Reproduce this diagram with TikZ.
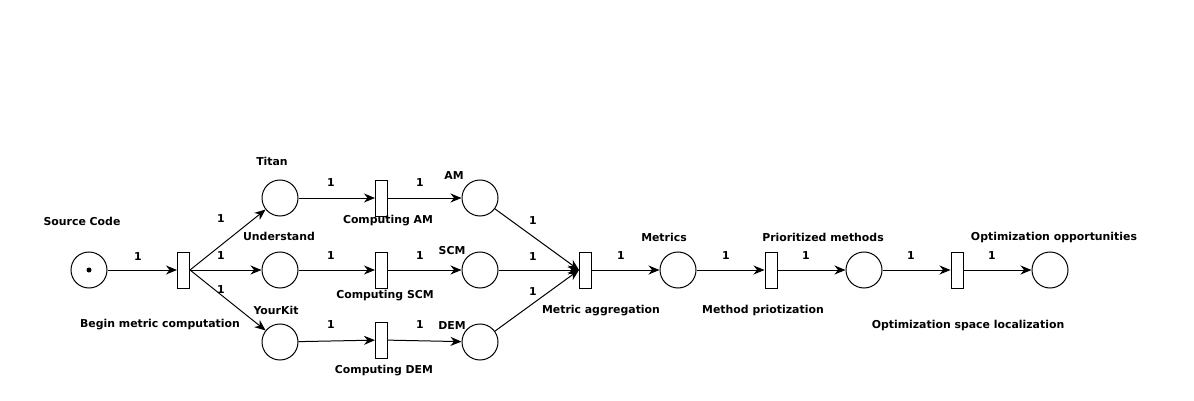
\documentclass[tikz,border=0pt]{standalone}
\usepackage{fontspec}
\setmainfont{DejaVu Sans}
\usetikzlibrary{arrows.meta,positioning}

\begin{document}
\begin{tikzpicture}[x=1pt, y=-1pt,
    place/.style={circle, draw, line width=1pt, minimum size=36pt, inner sep=0pt},
    transition/.style={rectangle, draw, line width=1pt, minimum width=12pt, minimum height=36pt, inner sep=0pt},
    arc/.style={line width=1pt, -{Stealth[length=11pt, width=9pt, inset=3.5pt]}},
    lbl/.style={font=\fontsize{10.9}{12}\selectfont\bfseries, inner sep=0pt},
    weight/.style={font=\fontsize{10.9}{12}\selectfont\bfseries, inner sep=0pt}]
    % Page frame
    \useasboundingbox (0,0) rectangle (1194,401);

    % Places
    \node[place] (src) at (89,270) {};
    \fill (src.center) circle (2.5pt);
    \node[place] (titan) at (280,198) {};
    \node[place] (und) at (280,270) {};
    \node[place] (yk) at (280,342) {};
    \node[place] (am) at (480,198) {};
    \node[place] (scm) at (480,270) {};
    \node[place] (dem) at (480,342) {};
    \node[place] (metrics) at (678,270) {};
    \node[place] (prio) at (864,270) {};
    \node[place] (opp) at (1050,270) {};

    % Transitions
    \node[transition] (begin) at (183.5,270) {};
    \node[transition] (cam) at (381.5,198) {};
    \node[transition] (cscm) at (381.5,270) {};
    \node[transition] (cdem) at (381.5,340) {};
    \node[transition] (aggr) at (585.5,270) {};
    \node[transition] (mprio) at (771,270) {};
    \node[transition] (osl) at (957,270) {};

    % Labels
    \node[lbl] (lsrc) at (82,221) {Source Code};
    \node[lbl] (lbegin) at (160,325) {Begin metric computation};
    \node[lbl] (ltitan) at (272,161) {Titan};
    \node[lbl] (lund) at (279,236) {Understand};
    \node[lbl] (lyk) at (276,310) {YourKit};
    \node[lbl] (lcam) at (388,221) {Computing AM};
    \node[lbl] (lcscm) at (385,296) {Computing SCM};
    \node[lbl] (lcdem) at (384,371) {Computing DEM};
    \node[lbl] (lam) at (454,176) {AM};
    \node[lbl] (lscm) at (452,251) {SCM};
    \node[lbl] (ldem) at (452,326) {DEM};
    \node[lbl] (laggr) at (601,311) {Metric aggregation};
    \node[lbl] (lmetrics) at (664,237) {Metrics};
    \node[lbl] (lprio) at (823,237) {Prioritized methods};
    \node[lbl] (lopp) at (1054,237) {Optimization opportunities};
    \node[lbl] (lmprio) at (763,310) {Method priotization};
    \node[lbl] (losl) at (968,325) {Optimization space localization};

    % Arcs
    \draw[arc] (src) -- (begin);
    \draw[arc] (begin.east) -- (titan);
    \draw[arc] (begin) -- (und);
    \draw[arc] (begin.east) -- (yk);
    \draw[arc] (titan) -- (cam);
    \draw[arc] (cam) -- (am);
    \draw[arc] (und) -- (cscm);
    \draw[arc] (cscm) -- (scm);
    \draw[arc] (yk) -- (cdem);
    \draw[arc] (cdem) -- (dem);
    \draw[arc] (am) -- (aggr.west);
    \draw[arc] (scm) -- (aggr.west);
    \draw[arc] (dem) -- (aggr.west);
    \draw[arc] (aggr) -- (metrics);
    \draw[arc] (metrics) -- (mprio);
    \draw[arc] (mprio) -- (prio);
    \draw[arc] (prio) -- (osl);
    \draw[arc] (osl) -- (opp);

    % Arc weights
    \node[weight] (w1) at (138,257) {1};
    \node[weight] (w2) at (221,219) {1};
    \node[weight] (w3) at (221,256) {1};
    \node[weight] (w4) at (221,290) {1};
    \node[weight] (w5) at (331,183) {1};
    \node[weight] (w6) at (420,183) {1};
    \node[weight] (w7) at (331,256) {1};
    \node[weight] (w8) at (420,256) {1};
    \node[weight] (w9) at (331,325) {1};
    \node[weight] (w10) at (420,325) {1};
    \node[weight] (w11) at (533,221) {1};
    \node[weight] (w12) at (533,257) {1};
    \node[weight] (w13) at (533,292) {1};
    \node[weight] (w14) at (621,256) {1};
    \node[weight] (w15) at (726,256) {1};
    \node[weight] (w16) at (806,256) {1};
    \node[weight] (w17) at (911,256) {1};
    \node[weight] (w18) at (992,256) {1};

\end{tikzpicture}
\end{document}
